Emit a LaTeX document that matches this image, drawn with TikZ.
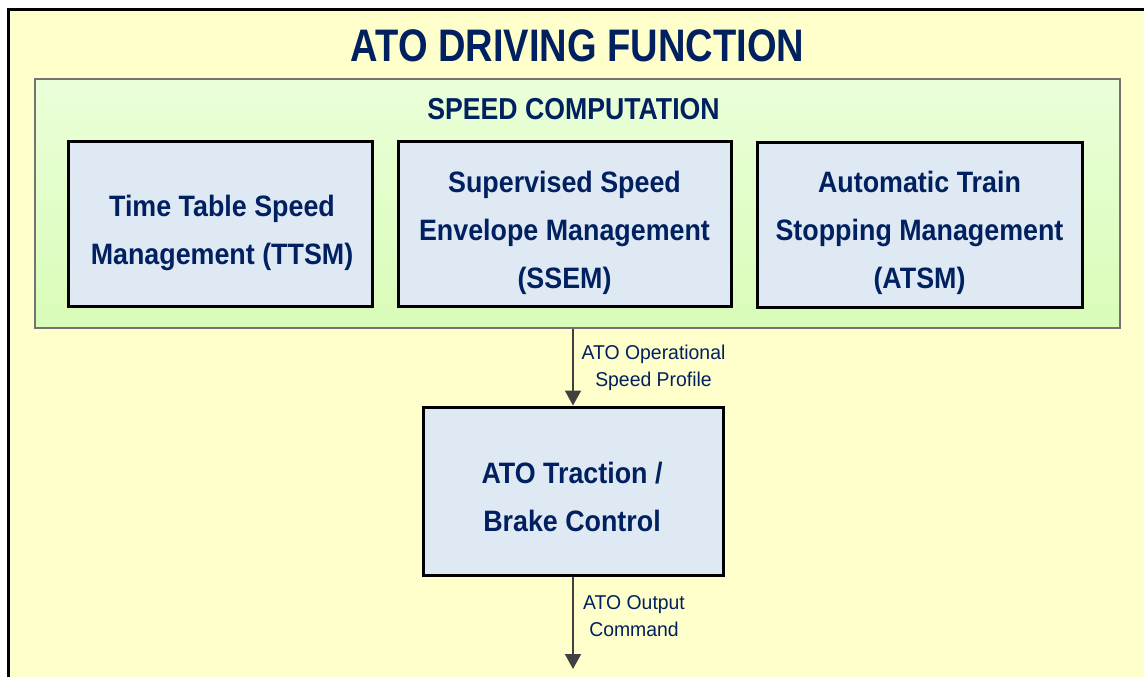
\documentclass[tikz,border=0pt]{standalone}
\usepackage{fontspec}
\setmainfont{Liberation Sans}
\newfontfamily\titlefont{Liberation Sans}[FakeStretch=0.835]
\newfontfamily\headfont{Liberation Sans}[FakeStretch=0.88]
\newfontfamily\boxfont{Liberation Sans}[FakeStretch=0.91]
\newfontfamily\labfont{Liberation Sans}[FakeStretch=0.97]
\usetikzlibrary{arrows.meta}
\definecolor{navy}{RGB}{0,32,96}
\definecolor{bgyellow}{RGB}{255,255,204}
\definecolor{greentop}{RGB}{234,255,217}
\definecolor{greenbot}{RGB}{217,252,184}
\definecolor{boxfill}{RGB}{223,233,243}
\definecolor{arrgray}{RGB}{64,64,64}
\tikzset{
  frame/.style={draw=black, line width=3pt},
  groupbox/.style={draw=gray!90!black, line width=1.3pt, top color=greentop, bottom color=greenbot, inner sep=0pt},
  funcbox/.style={draw=black, line width=3pt, fill=boxfill, inner sep=0pt},
  boxtext/.style={text=navy, align=center, inner sep=0pt, font={\boxfont\bfseries\fontsize{29.5}{48}\selectfont}},
  titletext/.style={text=navy, inner sep=0pt, font={\titlefont\bfseries\fontsize{45.6}{50}\selectfont}},
  headtext/.style={text=navy, inner sep=0pt, font={\headfont\bfseries\fontsize{30.3}{36}\selectfont}},
  labtext/.style={text=navy, align=center, inner sep=0pt, font={\labfont\fontsize{20}{27.5}\selectfont}},
  flow/.style={draw=arrgray, line width=2pt, -{Triangle[width=16pt,length=15pt]}}
}
\begin{document}
\begin{tikzpicture}[x=1pt,y=-1pt]
\useasboundingbox (0,0) rectangle (1144,677);
\clip (0,0) rectangle (1144,677);
\fill[white] (0,0) rectangle (1144,677);
% outer panel
\fill[bgyellow] (8,10) rectangle (1160,700);
\draw[frame] (1160,10) -- (8,10) -- (8,700);
\node[titletext] (title) at (577.5,45.5) {ATO DRIVING FUNCTION};
% speed computation group
\node[groupbox, minimum width=1085pt, minimum height=249pt] (group) at (577.5,203.5) {};
\node[headtext] (head) at (573.5,109) {SPEED COMPUTATION};
% function boxes
\node[funcbox, minimum width=304pt, minimum height=165pt] (ttsm) at (220,223.5) {};
\node[boxtext] (ttsmtext) at (222,233) {Time Table Speed\\Management (TTSM)};
\node[funcbox, minimum width=333pt, minimum height=165pt] (ssem) at (564.5,223.5) {};
\node[boxtext] (ssemtext) at (564.5,233) {Supervised Speed\\Envelope Management\\(SSEM)};
\node[funcbox, minimum width=325pt, minimum height=165pt] (atsm) at (919.5,224.5) {};
\node[boxtext] (atsmtext) at (919.5,233) {Automatic Train\\Stopping Management\\(ATSM)};
\node[funcbox, minimum width=300pt, minimum height=168pt] (trac) at (573,491) {};
\node[boxtext] (tractext) at (572,496.5) {ATO Traction /\\Brake Control};
% connectors
\coordinate (out) at (573,669);
\draw[flow] (trac.north |- group.south) -- (trac.north);
\draw[flow] (trac.south) -- (out);
\node[labtext] (lab1) at (653.5,368) {ATO Operational\\Speed Profile};
\node[labtext] (lab2) at (634,616) {ATO Output\\Command};
\end{tikzpicture}
\end{document}
